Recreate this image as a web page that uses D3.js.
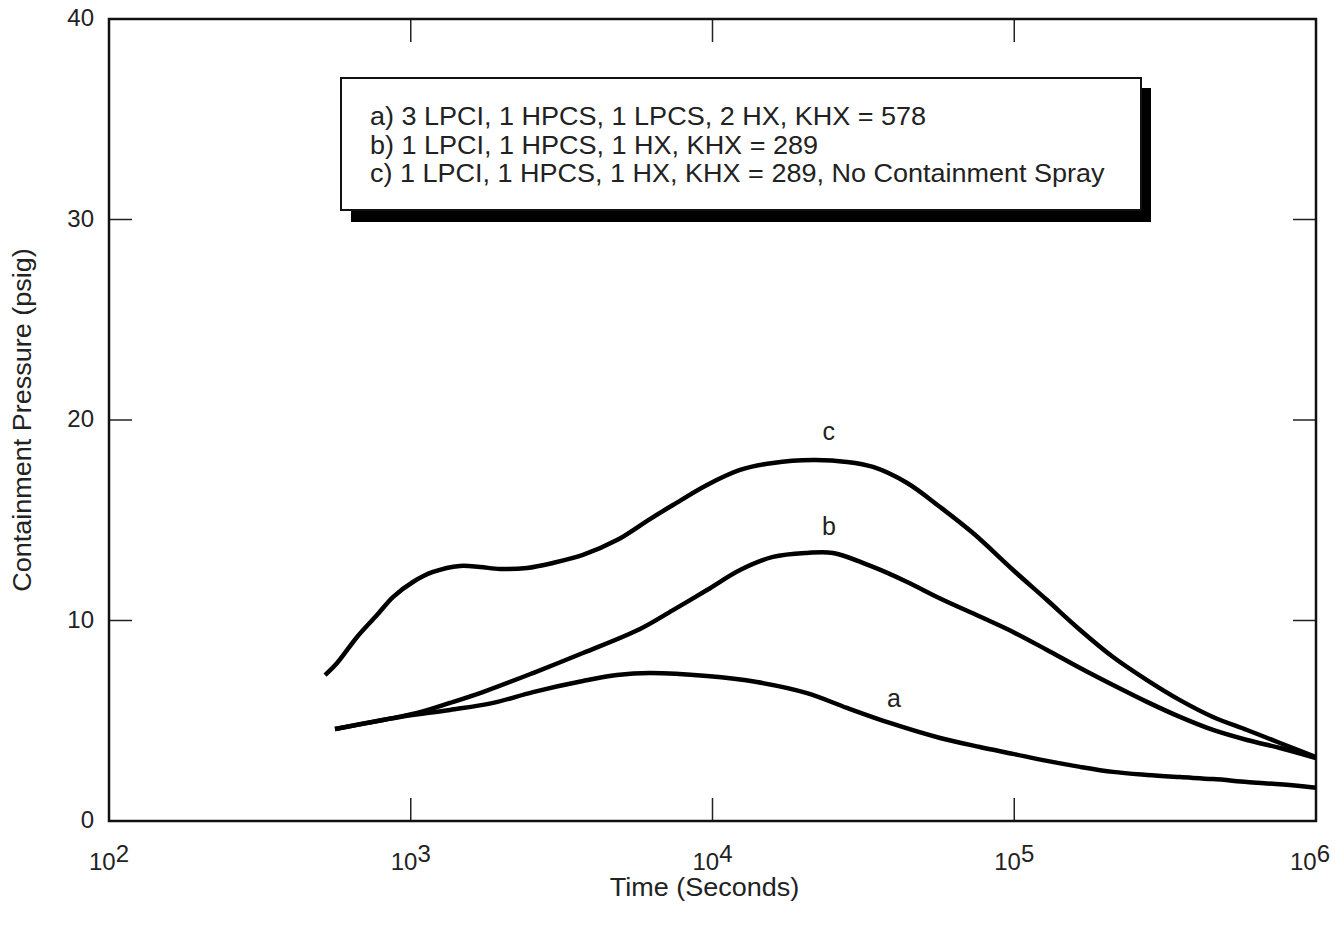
<!DOCTYPE html>
<html><head><meta charset="utf-8">
<script src="https://cdn.jsdelivr.net/npm/d3@7"></script>
<style>body{margin:0;background:#fff}svg{display:block}text{font-family:"Liberation Sans",Arial,sans-serif;fill:#222}</style>
</head><body><svg id="c" width="1335" height="930"></svg>
<script>
const xTicks=[100,1000,10000,100000,1000000];
const xTickExp=["2","3","4","5","6"];
const yTicks=[0,10,20,30,40];
const legendLines=["a) 3 LPCI, 1 HPCS, 1 LPCS, 2 HX, KHX = 578","b) 1 LPCI, 1 HPCS, 1 HX, KHX = 289","c) 1 LPCI, 1 HPCS, 1 HX, KHX = 289, No Containment Spray"];
const seriesNames=["a","b","c"];
const curveA=[[561,4.59],[921,5.19],[1349,5.54],[1875,5.89],[2541,6.43],[3720,6.98],[4823,7.28],[6205,7.38],[9590,7.23],[14030,6.93],[20560,6.38],[27900,5.64],[38700,4.89],[56790,4.14],[76900,3.69],[99100,3.35],[128400,3.0],[165300,2.7],[212500,2.45],[275300,2.3],[354100,2.19],[455600,2.09],[590600,1.95],[760000,1.83],[1000000,1.66]];
const curveB=[[561,4.59],[809,5.04],[1050,5.39],[1349,5.89],[1734,6.43],[2541,7.38],[3720,8.38],[5754,9.58],[7396,10.52],[9590,11.52],[12340,12.52],[15860,13.17],[20560,13.37],[25060,13.37],[34040,12.67],[44160,11.92],[56790,11.1],[76900,10.2],[99100,9.43],[128400,8.53],[165300,7.63],[212500,6.78],[275300,5.94],[354100,5.19],[455600,4.54],[590600,4.04],[760000,3.64],[1000000,3.14]];
const curveC=[[520,7.28],[570,7.88],[664,9.18],[773,10.27],[873,11.17],[1017,11.92],[1185,12.42],[1456,12.72],[1695,12.67],[1977,12.57],[2427,12.62],[2960,12.87],[3720,13.27],[4823,14.01],[6205,15.06],[7396,15.76],[9590,16.76],[12340,17.51],[15860,17.86],[21520,18.0],[27900,17.91],[34040,17.66],[44160,16.86],[56790,15.66],[72990,14.36],[99100,12.52],[128400,11.02],[165300,9.53],[212500,8.18],[275300,7.03],[354100,6.03],[455600,5.19],[590600,4.54],[760000,3.89],[1000000,3.19]];
const labelPos=[[39900,5.69],[24300,14.26],[24300,19.0]];

const L=109,R=1316,T=19,B=821;
const x=d3.scaleLog().domain([100,1e6]).range([L,R]);
const y=d3.scaleLinear().domain([0,40]).range([B,T]);
const svg=d3.select("#c");
const stretch=(sel,f)=>{sel.each(function(){const w=this.getComputedTextLength();d3.select(this).attr("textLength",w*f).attr("lengthAdjust","spacingAndGlyphs");});};

// ticks inward
const tl=23;
const g=svg.append("g");
xTicks.slice(1,-1).forEach(t=>{
  g.append("line").attr("x1",x(t)).attr("x2",x(t)).attr("y1",B).attr("y2",B-tl).attr("stroke","#222").attr("stroke-width",1.5);
  g.append("line").attr("x1",x(t)).attr("x2",x(t)).attr("y1",T).attr("y2",T+tl).attr("stroke","#222").attr("stroke-width",1.5);
});
yTicks.slice(1,-1).forEach(v=>{
  g.append("line").attr("x1",L).attr("x2",L+tl).attr("y1",y(v)).attr("y2",y(v)).attr("stroke","#222").attr("stroke-width",1.5);
  g.append("line").attr("x1",R).attr("x2",R-tl).attr("y1",y(v)).attr("y2",y(v)).attr("stroke","#222").attr("stroke-width",1.5);
});
svg.append("rect").attr("x",L).attr("y",T).attr("width",R-L).attr("height",B-T).attr("fill","none").attr("stroke","#111").attr("stroke-width",2.5);

// y labels
yTicks.forEach(v=>{
  svg.append("text").attr("x",94).attr("y",y(v)+1).attr("text-anchor","end").attr("dominant-baseline","middle").style("font-size","24px").text(v);
});
// x labels
xTicks.forEach((t,i)=>{
  const tx=svg.append("text").attr("x",Math.min(x(t),1310)).attr("y",870).attr("text-anchor","middle").style("font-size","24px");
  tx.append("tspan").text("10");
  tx.append("tspan").attr("dy",-8).text(xTickExp[i]);
});
svg.append("text").attr("x",(L+R)/2-8).attr("y",896).attr("text-anchor","middle").style("font-size","25px").text("Time (Seconds)").call(stretch,1.08);
svg.append("text").attr("transform","translate(31,420) rotate(-90)").attr("text-anchor","middle").style("font-size","25px").text("Containment Pressure (psig)").call(stretch,1.08);

// curves
const line=d3.line().x(d=>x(d[0])).y(d=>y(d[1])).curve(d3.curveCatmullRom.alpha(0.5));
[curveA,curveB,curveC].forEach(c=>{
  svg.append("path").attr("d",line(c)).attr("fill","none").attr("stroke","#000").attr("stroke-width",4.5);
});
seriesNames.forEach((n,i)=>{
  svg.append("text").attr("x",x(labelPos[i][0])).attr("y",y(labelPos[i][1])).attr("text-anchor","middle").style("font-size","25px").text(n);
});

// legend
svg.append("rect").attr("x",351).attr("y",88).attr("width",800).attr("height",134).attr("fill","#000");
svg.append("rect").attr("x",341).attr("y",78).attr("width",800).attr("height",132).attr("fill","#fff").attr("stroke","#111").attr("stroke-width",2);
legendLines.forEach((s,i)=>{
  svg.append("text").attr("x",370).attr("y",125+i*28.5).style("font-size","25px").text(s).call(stretch,1.08);
});
</script></body></html>
